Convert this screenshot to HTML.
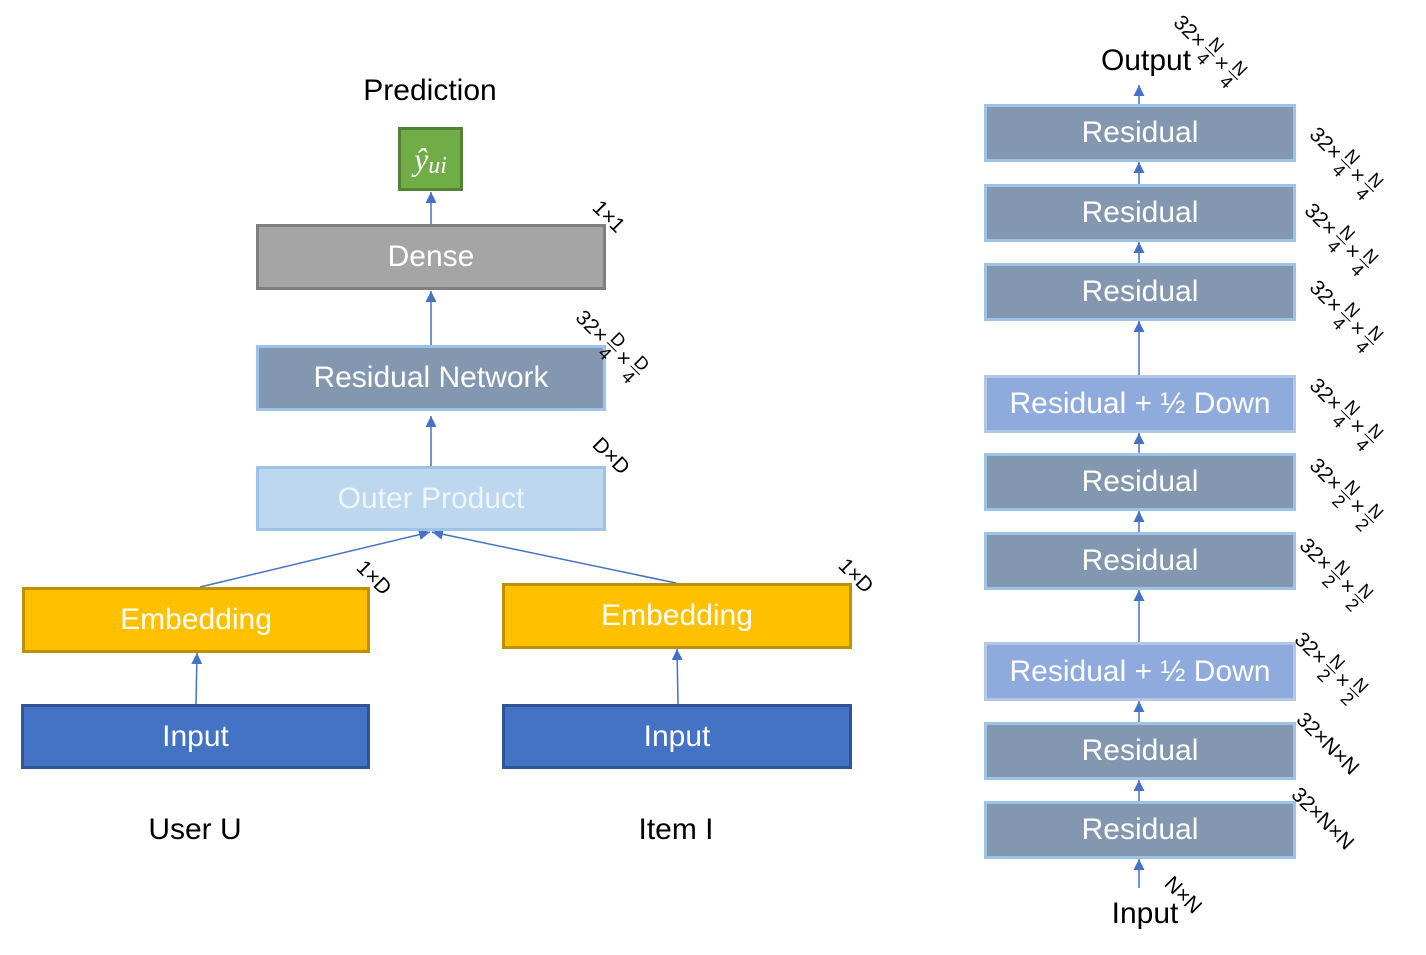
<!DOCTYPE html>
<html><head><meta charset="utf-8"><style>
body{margin:0;width:1426px;height:955px;background:#fff;position:relative;overflow:hidden;font-family:"Liberation Sans",sans-serif}
.b{position:absolute;box-sizing:border-box;border:3px solid;display:flex;align-items:center;justify-content:center;color:#fff;font-size:30px}
.t{position:absolute;font-size:30px;color:#000;transform:translateX(-50%);white-space:nowrap}
.r{background:#8497b0;border-color:#9dc3e6}
.d{background:#8faadc;border-color:#b4c7e7}
.lab{position:absolute;transform:rotate(45deg);transform-origin:0 0;font-family:"Liberation Sans",sans-serif;font-size:21px;white-space:nowrap;display:flex;align-items:center;gap:4px}
.f{display:inline-flex;flex-direction:column;align-items:center;line-height:18px;font-size:18px}
.f span:first-child{border-bottom:1.5px solid #000}
</style></head><body>
<svg width="1426" height="955" style="position:absolute;left:0;top:0">
<defs><marker id="a" markerWidth="12" markerHeight="12" refX="11" refY="6" orient="auto" markerUnits="userSpaceOnUse"><path d="M0,0.5 L11,6 L0,11.5z" fill="#4472c4"/></marker></defs>
<g stroke="#4472c4" stroke-width="1.5" fill="none">
<line x1="431" y1="224" x2="431" y2="192" marker-end="url(#a)"/>
<line x1="431" y1="345" x2="431" y2="291" marker-end="url(#a)"/>
<line x1="431" y1="466" x2="431" y2="416" marker-end="url(#a)"/>
<line x1="200" y1="587" x2="430" y2="532" marker-end="url(#a)"/>
<line x1="676" y1="583" x2="432" y2="532" marker-end="url(#a)"/>
<line x1="196" y1="704" x2="197" y2="653" marker-end="url(#a)"/>
<line x1="678" y1="704" x2="677" y2="649" marker-end="url(#a)"/>
<line x1="1139" y1="104" x2="1139" y2="85" marker-end="url(#a)"/>
<line x1="1139" y1="184" x2="1139" y2="162" marker-end="url(#a)"/>
<line x1="1139" y1="263" x2="1139" y2="242" marker-end="url(#a)"/>
<line x1="1139" y1="375" x2="1139" y2="321" marker-end="url(#a)"/>
<line x1="1139" y1="453" x2="1139" y2="433" marker-end="url(#a)"/>
<line x1="1139" y1="532" x2="1139" y2="511" marker-end="url(#a)"/>
<line x1="1139" y1="642" x2="1139" y2="590" marker-end="url(#a)"/>
<line x1="1139" y1="722" x2="1139" y2="701" marker-end="url(#a)"/>
<line x1="1139" y1="801" x2="1139" y2="780" marker-end="url(#a)"/>
<line x1="1139" y1="888" x2="1139" y2="859" marker-end="url(#a)"/>
</g></svg>
<div class="t" style="left:430px;top:74px">Prediction</div>
<div class="b" style="left:398px;top:127px;width:65px;height:64px;background:#70ad47;border-color:#548235;font-family:'Liberation Serif',serif;font-style:italic;font-size:32px">ŷ<span style="font-size:24px;margin-top:14px">ui</span></div>
<div class="b" style="left:256px;top:224px;width:350px;height:66px;background:#a5a5a5;border-color:#7f7f7f">Dense</div>
<div class="b r" style="left:256px;top:345px;width:350px;height:66px">Residual Network</div>
<div class="b" style="left:256px;top:466px;width:350px;height:65px;background:#bdd7ee;border-color:#9dc3e6;color:#eef5fc">Outer Product</div>
<div class="b" style="left:22px;top:587px;width:348px;height:66px;background:#ffc000;border-color:#bf9000">Embedding</div>
<div class="b" style="left:502px;top:583px;width:350px;height:66px;background:#ffc000;border-color:#bf9000">Embedding</div>
<div class="b" style="left:21px;top:704px;width:349px;height:65px;background:#4472c4;border-color:#2f5597">Input</div>
<div class="b" style="left:502px;top:704px;width:350px;height:65px;background:#4472c4;border-color:#2f5597">Input</div>
<div class="t" style="left:195px;top:813px">User U</div>
<div class="t" style="left:676px;top:813px">Item I</div>

<div class="lab" style="left:604px;top:196px">1×1</div>
<div class="lab" style="left:592px;top:301px">32×<span class="f"><span>D</span><span>4</span></span>×<span class="f"><span>D</span><span>4</span></span></div>
<div class="lab" style="left:604px;top:433px">D×D</div>
<div class="lab" style="left:368px;top:556px">1×D</div>
<div class="lab" style="left:850px;top:554px">1×D</div>

<div class="t" style="left:1146px;top:44px">Output</div>
<div class="b r" style="left:984px;top:104px;width:312px;height:58px">Residual</div>
<div class="b r" style="left:984px;top:184px;width:312px;height:58px">Residual</div>
<div class="b r" style="left:984px;top:263px;width:312px;height:58px">Residual</div>
<div class="b d" style="left:984px;top:375px;width:312px;height:58px">Residual + ½ Down</div>
<div class="b r" style="left:984px;top:453px;width:312px;height:58px">Residual</div>
<div class="b r" style="left:984px;top:532px;width:312px;height:58px">Residual</div>
<div class="b d" style="left:984px;top:642px;width:312px;height:59px">Residual + ½ Down</div>
<div class="b r" style="left:984px;top:722px;width:312px;height:58px">Residual</div>
<div class="b r" style="left:984px;top:801px;width:312px;height:58px">Residual</div>
<div class="t" style="left:1145px;top:897px">Input</div>

<div class="lab" style="left:1190px;top:6px">32×<span class="f"><span>N</span><span>4</span></span>×<span class="f"><span>N</span><span>4</span></span></div>
<div class="lab" style="left:1326px;top:118px">32×<span class="f"><span>N</span><span>4</span></span>×<span class="f"><span>N</span><span>4</span></span></div>
<div class="lab" style="left:1321px;top:194px">32×<span class="f"><span>N</span><span>4</span></span>×<span class="f"><span>N</span><span>4</span></span></div>
<div class="lab" style="left:1326px;top:271px">32×<span class="f"><span>N</span><span>4</span></span>×<span class="f"><span>N</span><span>4</span></span></div>
<div class="lab" style="left:1326px;top:369px">32×<span class="f"><span>N</span><span>4</span></span>×<span class="f"><span>N</span><span>4</span></span></div>
<div class="lab" style="left:1326px;top:449px">32×<span class="f"><span>N</span><span>2</span></span>×<span class="f"><span>N</span><span>2</span></span></div>
<div class="lab" style="left:1316px;top:529px">32×<span class="f"><span>N</span><span>2</span></span>×<span class="f"><span>N</span><span>2</span></span></div>
<div class="lab" style="left:1311px;top:623px">32×<span class="f"><span>N</span><span>2</span></span>×<span class="f"><span>N</span><span>2</span></span></div>
<div class="lab" style="left:1308px;top:708px">32×N×N</div>
<div class="lab" style="left:1303px;top:783px">32×N×N</div>
<div class="lab" style="left:1176px;top:872px">N×N</div>
</body></html>
